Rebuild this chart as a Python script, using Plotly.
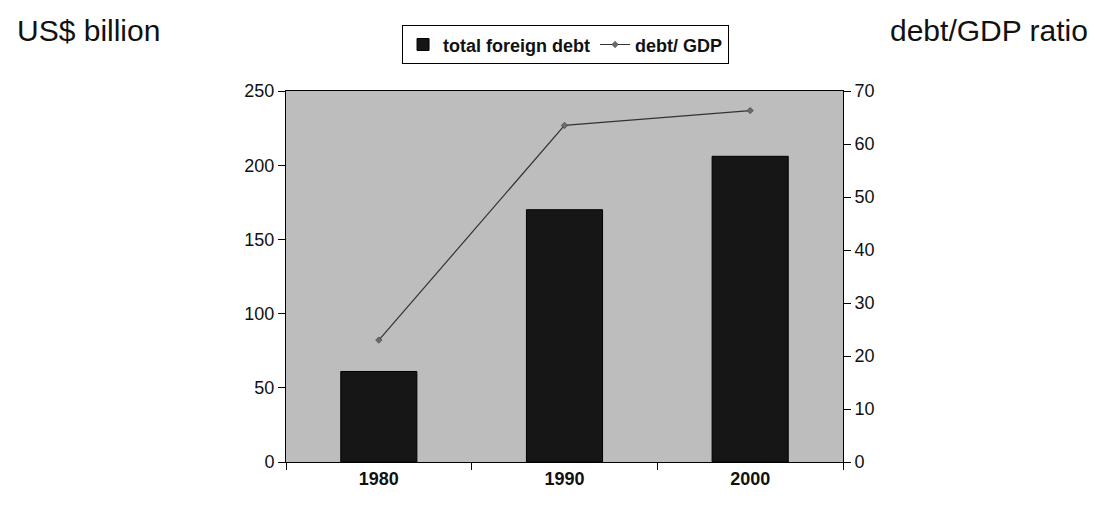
import plotly.graph_objects as go

# Foreign debt (US$ billion) and debt/GDP ratio by year
years = ["1980", "1990", "2000"]
total_foreign_debt = [61, 170, 206]
debt_gdp_ratio = [23, 63.5, 66.3]

FONT = "Arial, Liberation Sans, sans-serif"

fig = go.Figure()

fig.add_trace(go.Bar(
    x=years, y=total_foreign_debt, name="total foreign debt",
    marker=dict(color="#161616", line=dict(color="#000000", width=1)),
    width=0.41, yaxis="y",
))

fig.add_trace(go.Scatter(
    x=years, y=debt_gdp_ratio, name="debt/ GDP", mode="lines+markers",
    line=dict(color="#333333", width=1.2),
    marker=dict(symbol="diamond", size=5, color="#6a6a6a",
                line=dict(color="#333333", width=0.5)),
    yaxis="y2",
))

fig.update_layout(
    width=1096, height=506,
    margin=dict(l=286, r=253, t=91, b=44),
    paper_bgcolor="white",
    plot_bgcolor="#bdbdbd",
    font=dict(family=FONT, color="#111111", size=16),
    bargap=0.59,
    showlegend=True,
    legend=dict(
        orientation="h", xref="container", yref="container",
        x=0.516, y=0.95, xanchor="center", yanchor="top",
        bordercolor="#000000", borderwidth=1, bgcolor="white",
        font=dict(family=FONT, size=18, color="#111111", weight="bold"),
        itemwidth=30, tracegroupgap=0,
    ),
    xaxis=dict(
        type="category", showline=True, linecolor="#000000", linewidth=1,
        mirror=True, ticks="outside", ticklen=7, tickcolor="#000000",
        tickson="boundaries", showgrid=False,
        tickfont=dict(family=FONT, size=18, weight="bold"),
    ),
    yaxis=dict(
        range=[0, 250], dtick=50, showline=True, linecolor="#000000",
        linewidth=1, ticks="outside", ticklen=7, tickcolor="#000000",
        showgrid=False, zeroline=False,
        tickfont=dict(family=FONT, size=18),
    ),
    yaxis2=dict(
        range=[0, 70], dtick=10, overlaying="y", side="right",
        showline=True, linecolor="#000000", linewidth=1, ticks="outside",
        ticklen=7, tickcolor="#000000", showgrid=False, zeroline=False,
        tickfont=dict(family=FONT, size=18),
    ),
    annotations=[
        dict(text="US$ billion", xref="paper", yref="paper",
             x=-0.4865, y=1.164, xanchor="left", yanchor="middle",
             showarrow=False, font=dict(family=FONT, size=30, color="#111111")),
        dict(text="debt/GDP ratio", xref="paper", yref="paper",
             x=1.4434, y=1.164, xanchor="right", yanchor="middle",
             showarrow=False, font=dict(family=FONT, size=30, color="#111111")),
    ],
)

fig.write_html("out.html")
